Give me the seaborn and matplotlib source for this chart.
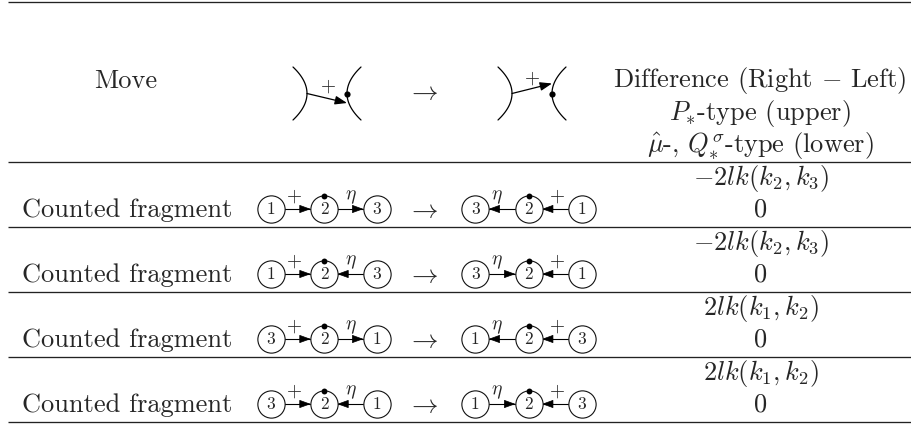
import numpy as np
import pandas as pd
import matplotlib
matplotlib.use('Agg')
import matplotlib.pyplot as plt
import seaborn as sns
import warnings
warnings.filterwarnings('ignore')

sns.set_theme(style='white')
plt.rcParams['font.family'] = ['cmr10', 'DejaVu Sans']
plt.rcParams['mathtext.fontset'] = 'cm'

row_labels = ['Counted fragment'] * 4
upper_diff = [r'$-2lk(k_2,k_3)$', r'$-2lk(k_2,k_3)$', r'$2lk(k_1,k_2)$', r'$2lk(k_1,k_2)$']
lower_diff = ['0', '0', '0', '0']
outer_left = ['1', '1', '3', '3']
outer_right = ['3', '3', '1', '1']
eta_left_to_mid = [False, True, False, True]
eta_right_to_mid = [False, True, False, True]
header_lines = ['Difference (Right $-$ Left)', r'$P_{*}$-type (upper)', r'$\hat{\mu}$-, $Q_{*}^{\sigma}$-type (lower)']

FS = 19
SMALL = 14
DIGIT = 12.5
row_step = 65
rule_y = [162, 227, 292, 357, 421.5]
node_r = 13.3
head = '-|>,head_length=0.55,head_width=0.2'

fig = plt.figure(figsize=(9.12, 4.25), dpi=100)
ax = fig.add_axes([0, 0, 1, 1])
ax.set_xlim(0, 912)
ax.set_ylim(425, 0)
ax.axis('off')

ax.hlines([1.5] + rule_y, 8, 912, color='#222222', lw=0.95)


def edge(x0, x1, y, lw=0.8):
    # line with a filled head at x1
    ax.plot([x0, x1], [y, y], color='black', lw=lw, zorder=2)
    ax.annotate('', xy=(x1, y), xytext=(x1 - np.sign(x1 - x0) * 11, y),
                arrowprops=dict(arrowstyle=head, color='black',
                                lw=0.5, shrinkA=0, shrinkB=0, mutation_scale=13), zorder=3)


def bracket(xtip, xb):
    t = np.linspace(-1, 1, 40)
    ax.plot(xb + (xtip - xb) * t ** 2, 93.5 + 26.5 * t, color='black', lw=0.9)


nodes = []
dots = []
for i in range(4):
    y = 209 + i * row_step
    ax.text(22, y + 7.7, row_labels[i], fontsize=FS, ha='left', va='baseline')
    ax.text(423, y + 1, r'$\rightarrow$', fontsize=FS, ha='center', va='center')

    # left fragment
    xs = [270.7, 324, 376.7]
    edge(xs[0] + node_r, xs[1] - node_r, y)
    if eta_left_to_mid[i]:
        edge(xs[2] - node_r, xs[1] + node_r, y)
    else:
        edge(xs[1] + node_r, xs[2] - node_r, y)
    ax.text(294, y - 12, '$+$', fontsize=SMALL, ha='center', va='center')
    ax.text(351, y - 12, r'$\eta$', fontsize=SMALL, ha='center', va='center')
    nodes += [(xs[0], y, outer_left[i]), (xs[1], y, '2'), (xs[2], y, outer_right[i])]
    dots.append((xs[1], y - node_r))

    # right fragment, order flipped
    xs = [475.3, 528.7, 581.7]
    edge(xs[2] - node_r, xs[1] + node_r, y)
    if eta_right_to_mid[i]:
        edge(xs[0] + node_r, xs[1] - node_r, y)
    else:
        edge(xs[1] - node_r, xs[0] + node_r, y)
    ax.text(497, y - 12, r'$\eta$', fontsize=SMALL, ha='center', va='center')
    ax.text(557, y - 12, '$+$', fontsize=SMALL, ha='center', va='center')
    nodes += [(xs[0], y, outer_right[i]), (xs[1], y, '2'), (xs[2], y, outer_left[i])]
    dots.append((xs[1], y - node_r))

    ax.text(761, y - 24, upper_diff[i], fontsize=FS, ha='center', va='baseline')
    ax.text(761, y + 7.7, lower_diff[i], fontsize=FS, ha='center', va='baseline')

node_df = pd.DataFrame(nodes, columns=['x', 'y', 'label'])
dot_df = pd.DataFrame(dots, columns=['x', 'y'])
sns.scatterplot(data=node_df, x='x', y='y', ax=ax, s=385, color='white', edgecolor='#111111',
                linewidth=0.8, zorder=4, legend=False)
sns.scatterplot(data=dot_df, x='x', y='y', ax=ax, s=18, color='black', linewidth=0, zorder=5, legend=False)
for _, r in node_df.iterrows():
    ax.text(r['x'], r['y'] + 5, r['label'], fontsize=DIGIT, ha='center', va='baseline', zorder=6)

# header row
ax.text(126, 88, 'Move', fontsize=FS, ha='center', va='baseline')
ax.text(423, 92, r'$\rightarrow$', fontsize=FS, ha='center', va='center')
bracket(293, 307)
bracket(361, 347)
bracket(498, 512)
bracket(566, 552)
ax.annotate('', xy=(347, 103), xytext=(307, 93.5),
            arrowprops=dict(arrowstyle=head, color='black', lw=0.9,
                            shrinkA=0, shrinkB=0, mutation_scale=13))
ax.annotate('', xy=(552, 83.5), xytext=(512, 93.5),
            arrowprops=dict(arrowstyle=head, color='black', lw=0.9,
                            shrinkA=0, shrinkB=0, mutation_scale=13))
sns.scatterplot(x=[347, 552], y=[93.5, 93.5], ax=ax, s=20, color='black', linewidth=0, zorder=5, legend=False)
ax.text(327.7, 86.5, '$+$', fontsize=SMALL, ha='center', va='center')
ax.text(532, 79, '$+$', fontsize=SMALL, ha='center', va='center')
ax.set_xlabel('')
ax.set_ylabel('')
ax.set_xlim(0, 912)
ax.set_ylim(425, 0)

for txt, yy in zip(header_lines, [87, 120, 153]):
    ax.text(760, yy, txt, fontsize=FS, ha='center', va='baseline')

fig.savefig('out.png', dpi=100)
